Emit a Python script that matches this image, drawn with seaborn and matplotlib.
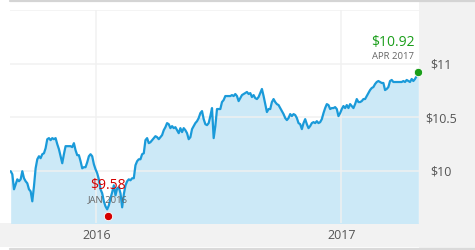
import numpy as np
import pandas as pd
import matplotlib
matplotlib.use("Agg")
import matplotlib.pyplot as plt
import matplotlib.dates as mdates
from matplotlib.patches import Rectangle
from matplotlib.lines import Line2D
import seaborn as sns

# ---- data ----
start_date = "2015-08-26"
end_date = "2017-04-26"
prices = [
    9.998, 9.969, 9.829, 9.876, 9.922, 9.904, 9.922, 9.998, 9.932, 9.904,
    9.885, 9.829, 9.810, 9.717, 9.857, 10.025, 10.109, 10.137, 10.119, 10.156,
    10.165, 10.212, 10.296, 10.306, 10.287, 10.306, 10.296, 10.306, 10.250, 10.203,
    10.137, 10.072, 10.156, 10.231, 10.231, 10.231, 10.231, 10.222, 10.259, 10.193,
    10.147, 10.147, 10.091, 10.025, 10.035, 10.035, 10.081, 10.137, 10.156, 10.137,
    10.063, 10.016, 9.979, 9.922, 9.829, 9.792, 9.717, 9.670, 9.642, 9.679,
    9.745, 9.801, 9.866, 9.773, 9.838, 9.848, 9.792, 9.661, 9.782, 9.866,
    9.904, 9.922, 9.913, 9.932, 9.932, 10.053, 10.091, 10.109, 10.109, 10.156,
    10.165, 10.287, 10.306, 10.259, 10.268, 10.287, 10.306, 10.324, 10.315, 10.296,
    10.315, 10.334, 10.380, 10.408, 10.446, 10.436, 10.399, 10.418, 10.399, 10.408,
    10.380, 10.352, 10.399, 10.362, 10.399, 10.380, 10.352, 10.296, 10.315, 10.390,
    10.418, 10.446, 10.464, 10.493, 10.539, 10.558, 10.483, 10.436, 10.427, 10.446,
    10.511, 10.586, 10.306, 10.418, 10.577, 10.577, 10.577, 10.642, 10.661, 10.698,
    10.698, 10.698, 10.698, 10.707, 10.698, 10.717, 10.698, 10.651, 10.679, 10.707,
    10.717, 10.726, 10.736, 10.717, 10.726, 10.689, 10.707, 10.679, 10.670, 10.689,
    10.726, 10.764, 10.698, 10.623, 10.549, 10.577, 10.577, 10.642, 10.670, 10.642,
    10.623, 10.614, 10.586, 10.558, 10.530, 10.493, 10.474, 10.493, 10.530, 10.511,
    10.530, 10.521, 10.493, 10.446, 10.436, 10.390, 10.446, 10.483, 10.436, 10.399,
    10.418, 10.446, 10.455, 10.446, 10.464, 10.446, 10.455, 10.483, 10.539, 10.586,
    10.623, 10.614, 10.577, 10.586, 10.586, 10.595, 10.577, 10.511, 10.539, 10.577,
    10.605, 10.586, 10.614, 10.586, 10.623, 10.605, 10.586, 10.623, 10.670, 10.642,
    10.642, 10.651, 10.670, 10.670, 10.698, 10.726, 10.754, 10.773, 10.782, 10.810,
    10.829, 10.838, 10.829, 10.820, 10.820, 10.754, 10.764, 10.782, 10.838, 10.848,
    10.829, 10.829, 10.829, 10.829, 10.829, 10.829, 10.838, 10.829, 10.848, 10.838,
    10.829, 10.857, 10.838, 10.857, 10.885, 10.920,
]
low_date = "2016-01-18"
low_value = 9.58
low_label = "$9.58"
low_sub = "JAN 2016"
high_date = "2017-04-26"
high_value = 10.92
high_label = "$10.92"
high_sub = "APR 2017"
y_ticks = [10.0, 10.5, 11.0]
y_tick_labels = ["$10", "$10.5", "$11"]
x_ticks = ["2016-01-01", "2017-01-01"]
x_tick_labels = ["2016", "2017"]

df = pd.DataFrame({
    "date": pd.date_range(start_date, end_date, periods=len(prices)),
    "price": prices,
})

# ---- style ----
sns.set_style("white")
plt.rcParams["font.family"] = ["Open Sans", "DejaVu Sans"]

LINE = "#1a9ad9"
FILL = "#cce9f7"
GRID = "#ececec"
PANEL = "#f2f2f2"
TXT = "#555555"

W, H = 475, 250
fig = plt.figure(figsize=(W / 100, H / 100), dpi=100)
fig.patch.set_facecolor("white")

# background panels (figure coordinates)
fig.add_artist(Rectangle((419 / W, 0), (W - 419) / W, 248 / H,
                         transform=fig.transFigure, facecolor=PANEL,
                         edgecolor="none", zorder=0))
fig.add_artist(Rectangle((0, 3 / H), 419 / W, (250 - 223 - 3) / H,
                         transform=fig.transFigure, facecolor=PANEL,
                         edgecolor="none", zorder=0))
fig.add_artist(Line2D([10 / W, 1], [249 / H, 249 / H], transform=fig.transFigure,
                      color="#d4d4d4", linewidth=1.6, zorder=1))
fig.add_artist(Line2D([10 / W, 1], [1.5 / H, 1.5 / H], transform=fig.transFigure,
                      color="#dadada", linewidth=1.6, zorder=1))

ax = fig.add_axes([10 / W, (H - 223) / H, 409 / W, 213 / H])
ax.set_facecolor("none")

ax.fill_between(df["date"], df["price"], 9.0, color=FILL, linewidth=0, zorder=1)
sns.lineplot(data=df, x="date", y="price", ax=ax, color=LINE, linewidth=1.6,
             zorder=4)

ax.set_xlim(pd.Timestamp(start_date) - pd.Timedelta(days=1),
            pd.Timestamp(end_date) + pd.Timedelta(days=1))
ax.set_ylim(9.515, 11.5)

# grid lines drawn over the fill
for yv in y_ticks + [11.5]:
    ax.axhline(yv, color="#f0f0f0", alpha=0.8, linewidth=1.3, zorder=2)
for xv in x_ticks:
    ax.axvline(pd.Timestamp(xv), color="#f0f0f0", alpha=0.8, linewidth=1.3, zorder=2)

for s in ax.spines.values():
    s.set_visible(False)

ax.set_xlabel("")
ax.set_ylabel("")
ax.set_xticks([pd.Timestamp(x) for x in x_ticks])
ax.set_xticklabels(x_tick_labels)
ax.yaxis.tick_right()
ax.set_yticks(y_ticks)
ax.set_yticklabels(y_tick_labels)
ax.tick_params(axis="x", length=0, pad=4, labelsize=9, labelcolor=TXT)
ax.tick_params(axis="y", length=0, pad=16, labelsize=9, labelcolor=TXT)
for lab in ax.get_yticklabels():
    lab.set_horizontalalignment("center")

# annotations
ld = pd.Timestamp(low_date)
hd = pd.Timestamp(high_date)
ax.plot([ld], [low_value], marker="o", markersize=6, color="#d40000",
        markeredgecolor="white", markeredgewidth=0.6, clip_on=False, zorder=6)
ax.plot([hd], [high_value], marker="o", markersize=6, color="#1a9e1a",
        markeredgecolor="white", markeredgewidth=0.6, clip_on=False, zorder=6)

ax.annotate(low_label, (ld, low_value), xytext=(0, 31), textcoords="offset pixels",
            ha="center", va="center", fontsize=10, color="#d40000", zorder=5)
ax.annotate(low_sub, (ld, low_value), xytext=(0, 16), textcoords="offset pixels",
            ha="center", va="center", fontsize=6.8, color="#666666", zorder=5)
ax.annotate(high_label, (hd, high_value), xytext=(-4, 30), textcoords="offset pixels",
            ha="right", va="center", fontsize=10, color="#1a9e1a", zorder=5)
ax.annotate(high_sub, (hd, high_value), xytext=(-4, 16), textcoords="offset pixels",
            ha="right", va="center", fontsize=6.8, color="#666666", zorder=5)

fig.savefig("out.png", dpi=100, facecolor="white")
